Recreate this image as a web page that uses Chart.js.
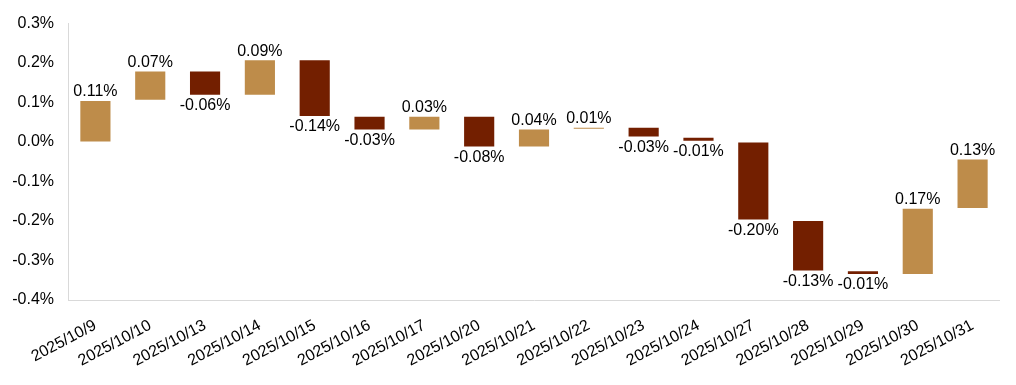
<!DOCTYPE html>
<html>
<head>
<meta charset="utf-8">
<script src="https://cdn.jsdelivr.net/npm/chart.js@4/dist/chart.umd.min.js"></script>
<style>
html,body{margin:0;padding:0;background:#fff;}
#wrap{width:1016px;height:385px;position:relative;}
</style>
</head>
<body>
<div id="wrap"><canvas id="c"></canvas></div>
<script>
const categories = ["2025/10/9","2025/10/10","2025/10/13","2025/10/14","2025/10/15","2025/10/16","2025/10/17","2025/10/20","2025/10/21","2025/10/22","2025/10/23","2025/10/24","2025/10/27","2025/10/28","2025/10/29","2025/10/30","2025/10/31"];
const changes = [0.11,0.07,-0.06,0.09,-0.14,-0.03,0.03,-0.08,0.04,0.01,-0.03,-0.01,-0.20,-0.13,-0.01,0.17,0.13];
const lows  = [0.000,0.107,0.120,0.120,0.066,0.032,0.032,-0.011,-0.011,0.034,0.014,0.003,-0.196,-0.325,-0.334,-0.334,-0.167];
const highs = [0.104,0.179,0.179,0.207,0.207,0.064,0.064,0.064,0.032,0.036,0.036,0.011,0.000,-0.200,-0.327,-0.169,-0.044];
const yTicks = [-0.4,-0.3,-0.2,-0.1,0.0,0.1,0.2,0.3];

const UP = '#BE8C4A', DOWN = '#731F00';
const FONT = "'Liberation Sans', Arial, sans-serif";

const labelPlugin = {
  id: 'wfLabels',
  afterDatasetsDraw(chart) {
    const ctx = chart.ctx;
    const meta = chart.getDatasetMeta(0);
    ctx.save();
    ctx.font = '16px ' + FONT;
    ctx.fillStyle = '#000';
    ctx.textAlign = 'center';
    meta.data.forEach((bar, i) => {
      const v = changes[i];
      const top = Math.min(bar.y, bar.base);
      const bottom = Math.max(bar.y, bar.base);
      const txt = v.toFixed(2) + '%';
      if (v >= 0) {
        ctx.textBaseline = 'bottom';
        ctx.fillText(txt, bar.x, top - 1);
      } else {
        ctx.textBaseline = 'top';
        ctx.fillText(txt, bar.x, bottom + 3);
      }
    });
    ctx.restore();
  }
};

new Chart(document.getElementById('c'), {
  type: 'bar',
  data: {
    labels: categories,
    datasets: [{
      data: categories.map((_, i) => [lows[i], highs[i]]),
      backgroundColor: changes.map(v => v >= 0 ? UP : DOWN),
      borderWidth: 0,
      barPercentage: 0.55,
      categoryPercentage: 1.0,
      minBarLength: 1
    }]
  },
  options: {
    responsive: true,
    maintainAspectRatio: false,
    animation: false,
    layout: { padding: { top: 21, right: 16, left: 0, bottom: 0 } },
    plugins: { legend: { display: false }, tooltip: { enabled: false } },
    scales: {
      x: {
        grid: { display: false, drawTicks: false },
        border: { display: false },
        afterFit(scale) { scale.height = 85; },
        ticks: {
          font: { size: 16, family: FONT },
          color: '#000',
          minRotation: 28,
          maxRotation: 28,
          padding: 16,
          autoSkip: false
        }
      },
      y: {
        min: yTicks[0],
        max: yTicks[yTicks.length - 1],
        afterBuildTicks(axis) { axis.ticks = yTicks.map(v => ({ value: v })); },
        afterFit(scale) { scale.width = 68; },
        grid: {
          drawTicks: false,
          color: ctx => (ctx.tick && Math.abs(ctx.tick.value - yTicks[0]) < 1e-9) ? '#d9d9d9' : 'rgba(0,0,0,0)',
          lineWidth: 1
        },
        border: { display: true, color: '#d9d9d9' },
        ticks: {
          font: { size: 16, family: FONT },
          color: '#000',
          padding: 14,
          callback: v => v.toFixed(1) + '%'
        }
      }
    }
  },
  plugins: [labelPlugin]
});
</script>
</body>
</html>
